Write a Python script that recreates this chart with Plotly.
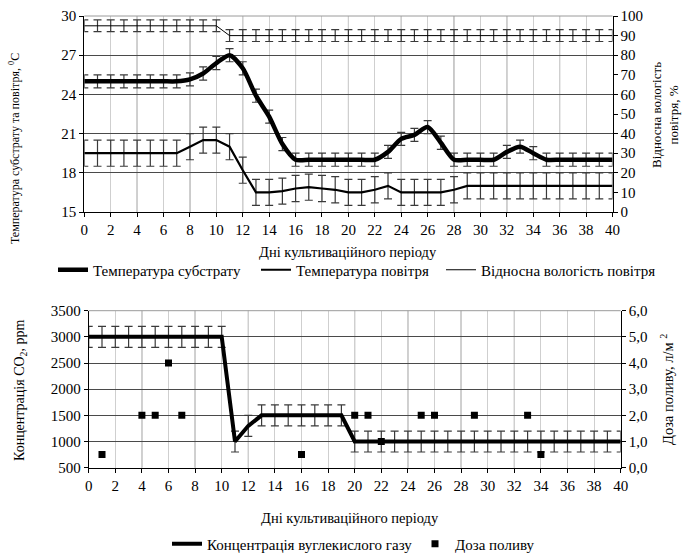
import plotly.graph_objects as go

# ---------------- data ----------------
days = [0, 1, 2, 3, 4, 5, 6, 7, 8, 9, 10, 11, 12, 13, 14, 15, 16, 17, 18, 19, 20,
        21, 22, 23, 24, 25, 26, 27, 28, 29, 30, 31, 32, 33, 34, 35, 36, 37, 38, 39, 40]

substrate_temp = [25.0, 25.0, 25.0, 25.0, 25.0, 25.0, 25.0, 25.0, 25.15, 25.6, 26.4,
                  27.0, 26.0, 23.9, 22.3, 20.2, 19.0, 19.0, 19.0, 19.0, 19.0,
                  19.0, 19.0, 19.6, 20.6, 20.9, 21.5, 20.3, 19.0, 19.0, 19.0,
                  19.0, 19.6, 20.0, 19.5, 19.0, 19.0, 19.0, 19.0, 19.0, 19.0]

air_temp = [19.5, 19.5, 19.5, 19.5, 19.5, 19.5, 19.5, 19.5, 20.0, 20.5, 20.5,
            20.0, 18.2, 16.5, 16.5, 16.6, 16.8, 16.9, 16.8, 16.7, 16.5,
            16.5, 16.7, 17.0, 16.5, 16.5, 16.5, 16.5, 16.7, 17.0, 17.0,
            17.0, 17.0, 17.0, 17.0, 17.0, 17.0, 17.0, 17.0, 17.0, 17.0]

humidity = [95, 95, 95, 95, 95, 95, 95, 95, 95, 95, 95,
            90, 90, 90, 90, 90, 90, 90, 90, 90, 90,
            90, 90, 90, 90, 90, 90, 90, 90, 90, 90,
            90, 90, 90, 90, 90, 90, 90, 90, 90, 90]

co2 = [3000, 3000, 3000, 3000, 3000, 3000, 3000, 3000, 3000, 3000, 3000,
       1000, 1300, 1500, 1500, 1500, 1500, 1500, 1500, 1500, 1000,
       1000, 1000, 1000, 1000, 1000, 1000, 1000, 1000, 1000, 1000,
       1000, 1000, 1000, 1000, 1000, 1000, 1000, 1000, 1000, 1000]

dose_days = [1, 4, 5, 6, 7, 16, 20, 21, 22, 25, 26, 29, 33, 34]
dose_values = [0.5, 2.0, 2.0, 4.0, 2.0, 0.5, 2.0, 2.0, 1.0, 2.0, 2.0, 2.0, 2.0, 0.5]

substrate_err = 0.5
air_err = 1.0
humidity_err = 3
co2_err = 200

x_ticks = [0, 2, 4, 6, 8, 10, 12, 14, 16, 18, 20, 22, 24, 26, 28, 30, 32, 34, 36, 38, 40]
temp_ticks = [15, 18, 21, 24, 27, 30]
hum_ticks = [0, 10, 20, 30, 40, 50, 60, 70, 80, 90, 100]
co2_ticks = [500, 1000, 1500, 2000, 2500, 3000, 3500]
dose_ticks = [0, 1, 2, 3, 4, 5, 6]
dose_tick_labels = ["0,0", "1,0", "2,0", "3,0", "4,0", "5,0", "6,0"]
dark_grid_days = [4, 8, 12, 16, 20, 24, 28, 32, 36]

name_sub = "Температура субстрату"
name_air = "Температура повітря"
name_hum = "Відносна вологість повітря"
name_co2 = "Концентрація вуглекислого газу"
name_dose = "Доза поливу"

# ---------------- figure ----------------
W, H = 682, 553
FONT = "Liberation Serif, Times New Roman, DejaVu Serif, serif"
EB = "#3a3a3a"

def px_x(p):
    return p / W

def px_y(p):
    return 1 - p / H

fig = go.Figure()

fig.add_trace(go.Scatter(
    x=days, y=humidity, name=name_hum, mode="lines", xaxis="x", yaxis="y2",
    line=dict(color="black", width=1),
    error_y=dict(type="constant", value=humidity_err, color=EB, thickness=1.2, width=4),
    legend="legend3"))
fig.add_trace(go.Scatter(
    x=days, y=air_temp, name=name_air, mode="lines", xaxis="x", yaxis="y",
    line=dict(color="black", width=2.2),
    error_y=dict(type="constant", value=air_err, color=EB, thickness=1.2, width=4),
    legend="legend2"))
fig.add_trace(go.Scatter(
    x=days, y=substrate_temp, name=name_sub, mode="lines", xaxis="x", yaxis="y",
    line=dict(color="black", width=4.5, shape="spline", smoothing=0.7),
    error_y=dict(type="constant", value=substrate_err, color=EB, thickness=1.2, width=4),
    legend="legend"))

fig.add_trace(go.Scatter(
    x=days, y=co2, name=name_co2, mode="lines", xaxis="x2", yaxis="y3",
    line=dict(color="black", width=4),
    error_y=dict(type="constant", value=co2_err, color=EB, thickness=1.2, width=4),
    legend="legend4"))
fig.add_trace(go.Scatter(
    x=dose_days, y=dose_values, name=name_dose, mode="markers", xaxis="x2", yaxis="y4",
    marker=dict(symbol="square", size=7, color="black"),
    legend="legend5"))

tickfont = dict(family=FONT, size=15, color="black")

top_x_dom = [px_x(84.3), px_x(612.5)]
top_y_dom = [px_y(212), px_y(16)]
bot_x_dom = [px_x(88.7), px_x(620.7)]
bot_y_dom = [px_y(467.7), px_y(310.7)]

common_x = dict(range=[0, 40], tickvals=x_ticks, showgrid=True, gridcolor="#cfcfcf",
                gridwidth=1, showline=True, linecolor="black", linewidth=1,
                ticks="outside", ticklen=4, tickcolor="black", tickfont=tickfont,
                zeroline=False, fixedrange=True, automargin=False)

fig.update_layout(
    width=W, height=H,
    margin=dict(l=0, r=0, t=0, b=0, autoexpand=False),
    paper_bgcolor="white", plot_bgcolor="white",
    font=dict(family=FONT, size=14, color="black"),
    xaxis=dict(domain=top_x_dom, anchor="y", **common_x),
    yaxis=dict(domain=top_y_dom, anchor="x", range=[15, 30], tickvals=temp_ticks,
               showgrid=True, gridcolor="#4a4a4a", gridwidth=1, showline=True,
               linecolor="black", linewidth=1, ticks="outside", ticklen=4,
               tickcolor="black", tickfont=tickfont, zeroline=False, automargin=False),
    yaxis2=dict(overlaying="y", side="right", anchor="x", range=[0, 100],
                tickvals=hum_ticks, showgrid=False, showline=True, linecolor="black",
                linewidth=1, ticks="outside", ticklen=4, tickcolor="black",
                tickfont=tickfont, zeroline=False, automargin=False),
    xaxis2=dict(domain=bot_x_dom, anchor="y3", **common_x),
    yaxis3=dict(domain=bot_y_dom, anchor="x2", range=[500, 3500], tickvals=co2_ticks,
                showgrid=True, gridcolor="#4a4a4a", gridwidth=1, showline=True,
                linecolor="black", linewidth=1, ticks="outside", ticklen=4,
                tickcolor="black", tickfont=tickfont, zeroline=False, automargin=False),
    yaxis4=dict(overlaying="y3", side="right", anchor="x2", range=[0, 6],
                tickvals=dose_ticks, ticktext=dose_tick_labels, showgrid=False,
                showline=True, linecolor="black", linewidth=1, ticks="outside",
                ticklen=4, tickcolor="black", tickfont=tickfont, zeroline=False,
                automargin=False),
    showlegend=True,
)

legend_font = dict(family=FONT, size=15, color="black")
def leg(xpix, ypix):
    return dict(x=px_x(xpix), y=px_y(ypix), xanchor="left", yanchor="middle",
                orientation="h", bgcolor="rgba(0,0,0,0)", font=legend_font,
                borderwidth=0, itemclick=False, itemdoubleclick=False)

fig.update_layout(
    legend=leg(53, 270),
    legend2=leg(256, 270),
    legend3=leg(441, 270),
    legend4=leg(167, 544),
    legend5=leg(415, 544),
)

# darker vertical gridlines every 4 days and gray top borders
shapes = []
for d in dark_grid_days:
    shapes.append(dict(type="line", xref="x", yref="y domain", x0=d, x1=d, y0=0, y1=1,
                       line=dict(color="#8a8a8a", width=1), layer="below"))
    shapes.append(dict(type="line", xref="x2", yref="y3 domain", x0=d, x1=d, y0=0, y1=1,
                       line=dict(color="#8a8a8a", width=1), layer="below"))
shapes.append(dict(type="line", xref="x domain", yref="y domain", x0=0, x1=1, y0=1, y1=1,
                   line=dict(color="#9a9a9a", width=1)))
shapes.append(dict(type="line", xref="x2 domain", yref="y3 domain", x0=0, x1=1, y0=1, y1=1,
                   line=dict(color="#9a9a9a", width=1)))
fig.update_layout(shapes=shapes)

annotations = [
    dict(text="Дні культиваційного періоду", x=px_x(348), y=px_y(252), xref="paper",
         yref="paper", showarrow=False, font=dict(family=FONT, size=14.5, color="black"),
         xanchor="center", yanchor="middle"),
    dict(text="Дні культиваційного періоду", x=px_x(350), y=px_y(518), xref="paper",
         yref="paper", showarrow=False, font=dict(family=FONT, size=14.5, color="black"),
         xanchor="center", yanchor="middle"),
    dict(text="Температура субстрату та повітря, <sup>0</sup>C", x=px_x(15), y=px_y(149),
         xref="paper", yref="paper", showarrow=False, textangle=-90,
         font=dict(family=FONT, size=12, color="black"), xanchor="center", yanchor="middle"),
    dict(text="Відносна вологість<br>повітря, %", x=px_x(665), y=px_y(115),
         xref="paper", yref="paper", showarrow=False, textangle=-90,
         font=dict(family=FONT, size=13, color="black"), xanchor="center", yanchor="middle"),
    dict(text="Концентрація CO<sub>2</sub>, ppm", x=px_x(20), y=px_y(390),
         xref="paper", yref="paper", showarrow=False, textangle=-90,
         font=dict(family=FONT, size=14, color="black"), xanchor="center", yanchor="middle"),
    dict(text="Доза поливу, л/м <sup>2</sup>", x=px_x(667), y=px_y(390),
         xref="paper", yref="paper", showarrow=False, textangle=-90,
         font=dict(family=FONT, size=14.5, color="black"), xanchor="center", yanchor="middle"),
]
fig.update_layout(annotations=annotations)

fig.write_html("out.html", config={"displayModeBar": False},
               post_script="document.body.style.margin='0px';")
